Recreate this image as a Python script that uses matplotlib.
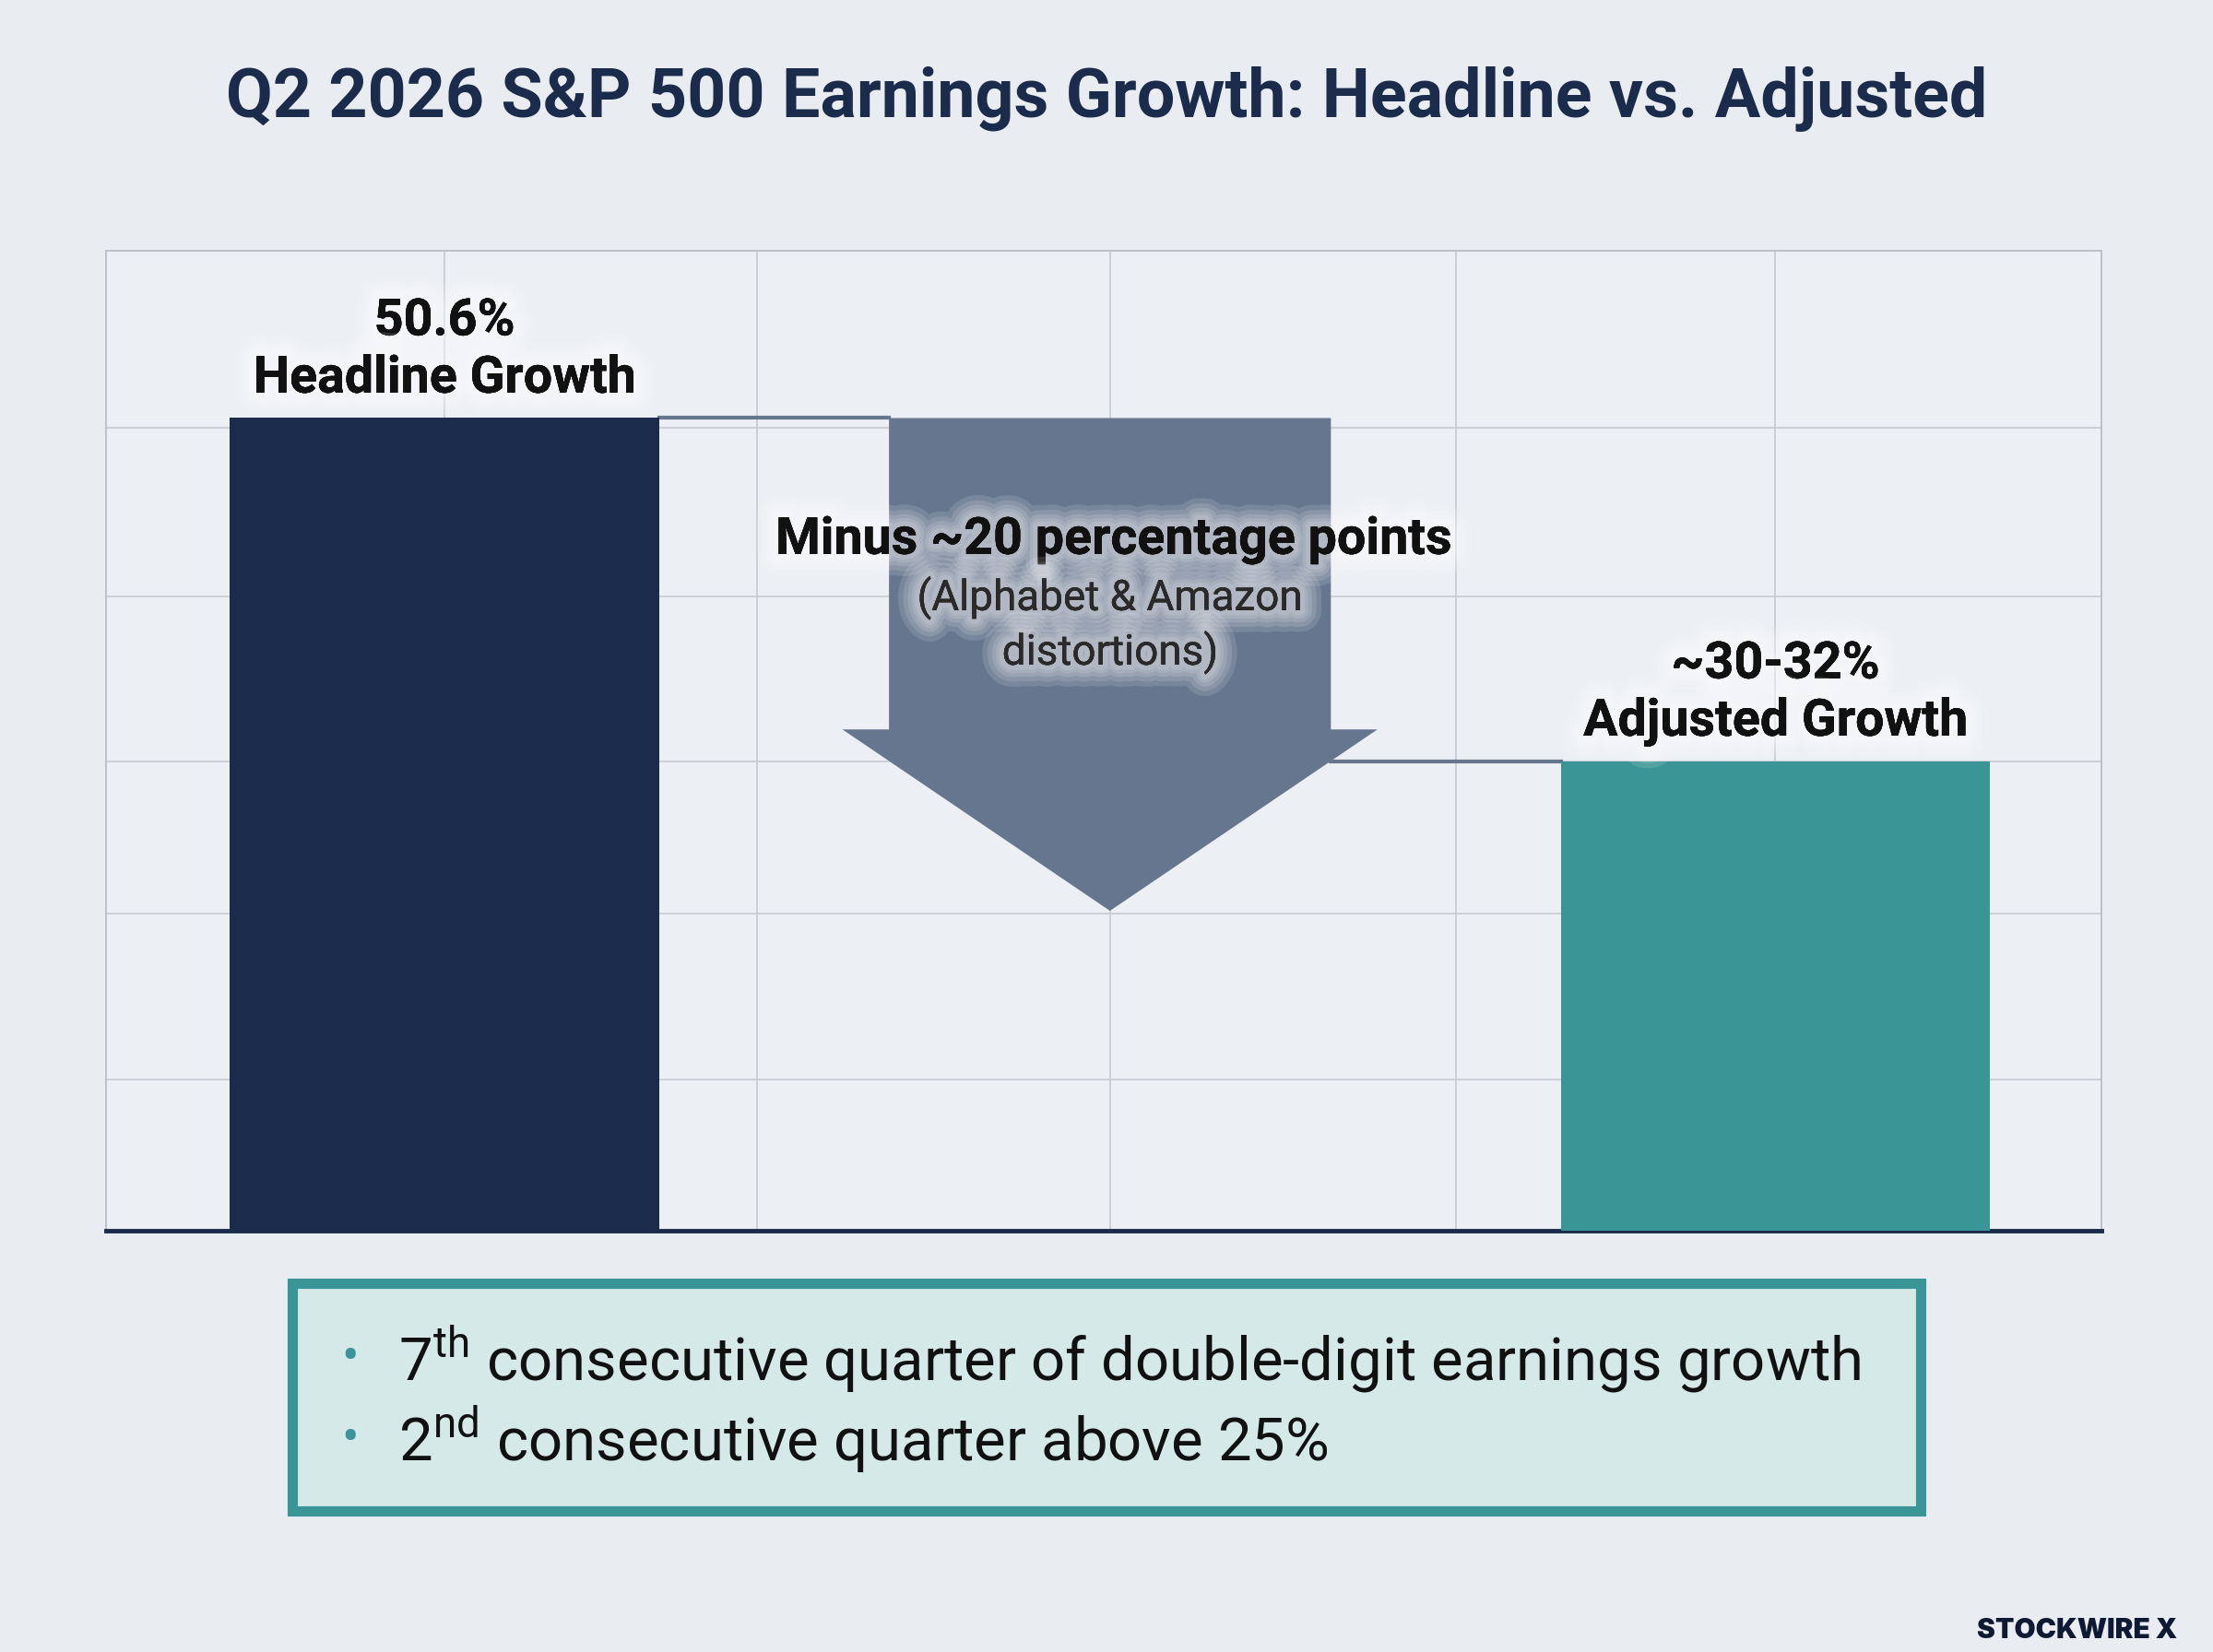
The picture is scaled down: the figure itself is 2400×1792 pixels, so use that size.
import matplotlib
matplotlib.use("Agg")
import matplotlib.pyplot as plt
import matplotlib.patheffects as pe
from matplotlib.patches import Polygon, Rectangle

plt.rcParams['font.family'] = ['Roboto', 'DejaVu Sans']
plt.rcParams['mathtext.fontset'] = 'custom'
plt.rcParams['mathtext.rm'] = 'Roboto'

# data
categories = ["Headline Growth", "Adjusted Growth"]
values = [50.6, 29.2]
value_labels = ["50.6%", "~30-32%"]
drop_pts = 20
arrow_text = "Minus ~20 percentage points"
arrow_note = "(Alphabet & Amazon\ndistortions)"
bullets = [r"7$^{\mathrm{th}}$ consecutive quarter of double-digit earnings growth",
           r"2$^{\mathrm{nd}}$ consecutive quarter above 25%"]
title = "Q2 2026 S&P 500 Earnings Growth: Headline vs. Adjusted"

bg = "#e9edf1"
navy = "#1b2b4b"
teal = "#3a9696"
slate = "#66768e"
gridc = "#c9cdd3"

fig = plt.figure(figsize=(24, 17.92), dpi=100)
fig.patch.set_facecolor(bg)

ax = fig.add_axes([0.0478, 0.2553, 0.9018, 0.5927])
ax.set_facecolor("#eceff3")
xpos = [0, 2]
w = 0.645
ax.bar(xpos, values, width=w, color=[navy, teal], zorder=3)
ax.set_xlim(-0.509, 2.49)
ax.set_ylim(0, 61)

# grid
for gx in [0, 0.47, 1, 1.52, 2]:
    ax.axvline(gx, color=gridc, lw=1.3, zorder=1)
for gy in [9.4, 19.7, 29.2, 39.5, 50]:
    ax.axhline(gy, color=gridc, lw=1.3, zorder=1)
ax.set_xticks([])
ax.set_yticks([])
for s in ["top", "left", "right"]:
    ax.spines[s].set_color("#b9bec6")
    ax.spines[s].set_linewidth(1.3)
ax.spines["bottom"].set_color(navy)
ax.spines["bottom"].set_linewidth(3.5)

# arrow
shaft = 0.332
head = 0.402
head_base = values[0] - drop_pts + 0.6
tip = head_base - 11.3
arrow = Polygon([(1 - shaft, values[0]), (1 + shaft, values[0]), (1 + shaft, head_base),
                 (1 + head, head_base), (1, tip), (1 - head, head_base),
                 (1 - shaft, head_base)], closed=True, color=slate, zorder=4, lw=0)
ax.add_patch(arrow)

# connectors
ax.plot([xpos[0] + w / 2, 1 - shaft], [values[0], values[0]], color=slate, lw=3, zorder=2)
ax.plot([1 + shaft, xpos[1] - w / 2], [values[1], values[1]], color=slate, lw=3, zorder=2)

# soft white glow behind labels
glow = [pe.withStroke(linewidth=lw, foreground="white", alpha=0.13)
        for lw in (34, 26, 19, 13, 8)] + [pe.Normal()]
for x, v, lab, cat in zip(xpos, values, value_labels, categories):
    ax.annotate(lab + "\n" + cat, (x, v), xytext=(0, 12), textcoords="offset points",
                ha="center", va="bottom", fontsize=40, fontweight="bold",
                color="#111111", linespacing=1.25, zorder=6, path_effects=glow)

ax.text(1.005, 43.0, arrow_text, ha="center", va="center", fontsize=40,
        fontweight="bold", color="#111111", zorder=6, path_effects=glow)
ax.text(1.0, 37.7, arrow_note, ha="center", va="center", fontsize=33,
        color="#2a2a2a", linespacing=1.3, zorder=6, path_effects=glow)

fig.text(0.5, 0.940, title, ha="center", va="center", fontsize=53,
         fontweight="bold", color=navy)

# bottom box
box = Rectangle((0.132, 0.0854), 0.736, 0.1376, transform=fig.transFigure,
                facecolor="#d5e9e8", edgecolor=teal, lw=8)
fig.patches.append(box)
for i, b in enumerate(bullets):
    yy = 0.1776 - i * 0.0487
    fig.text(0.158, yy, "\u2022", ha="center", va="center", fontsize=40, color=teal)
    fig.text(0.1798, yy, b, ha="left", va="center", fontsize=47, color="#111111")

fig.text(0.984, 0.0128, "STOCKWIRE X", ha="right", va="center", fontsize=21.5,
         fontweight=900, family=["Inter", "DejaVu Sans"], color="#0e1a33")

fig.savefig("out.png", dpi=100, facecolor=bg)
